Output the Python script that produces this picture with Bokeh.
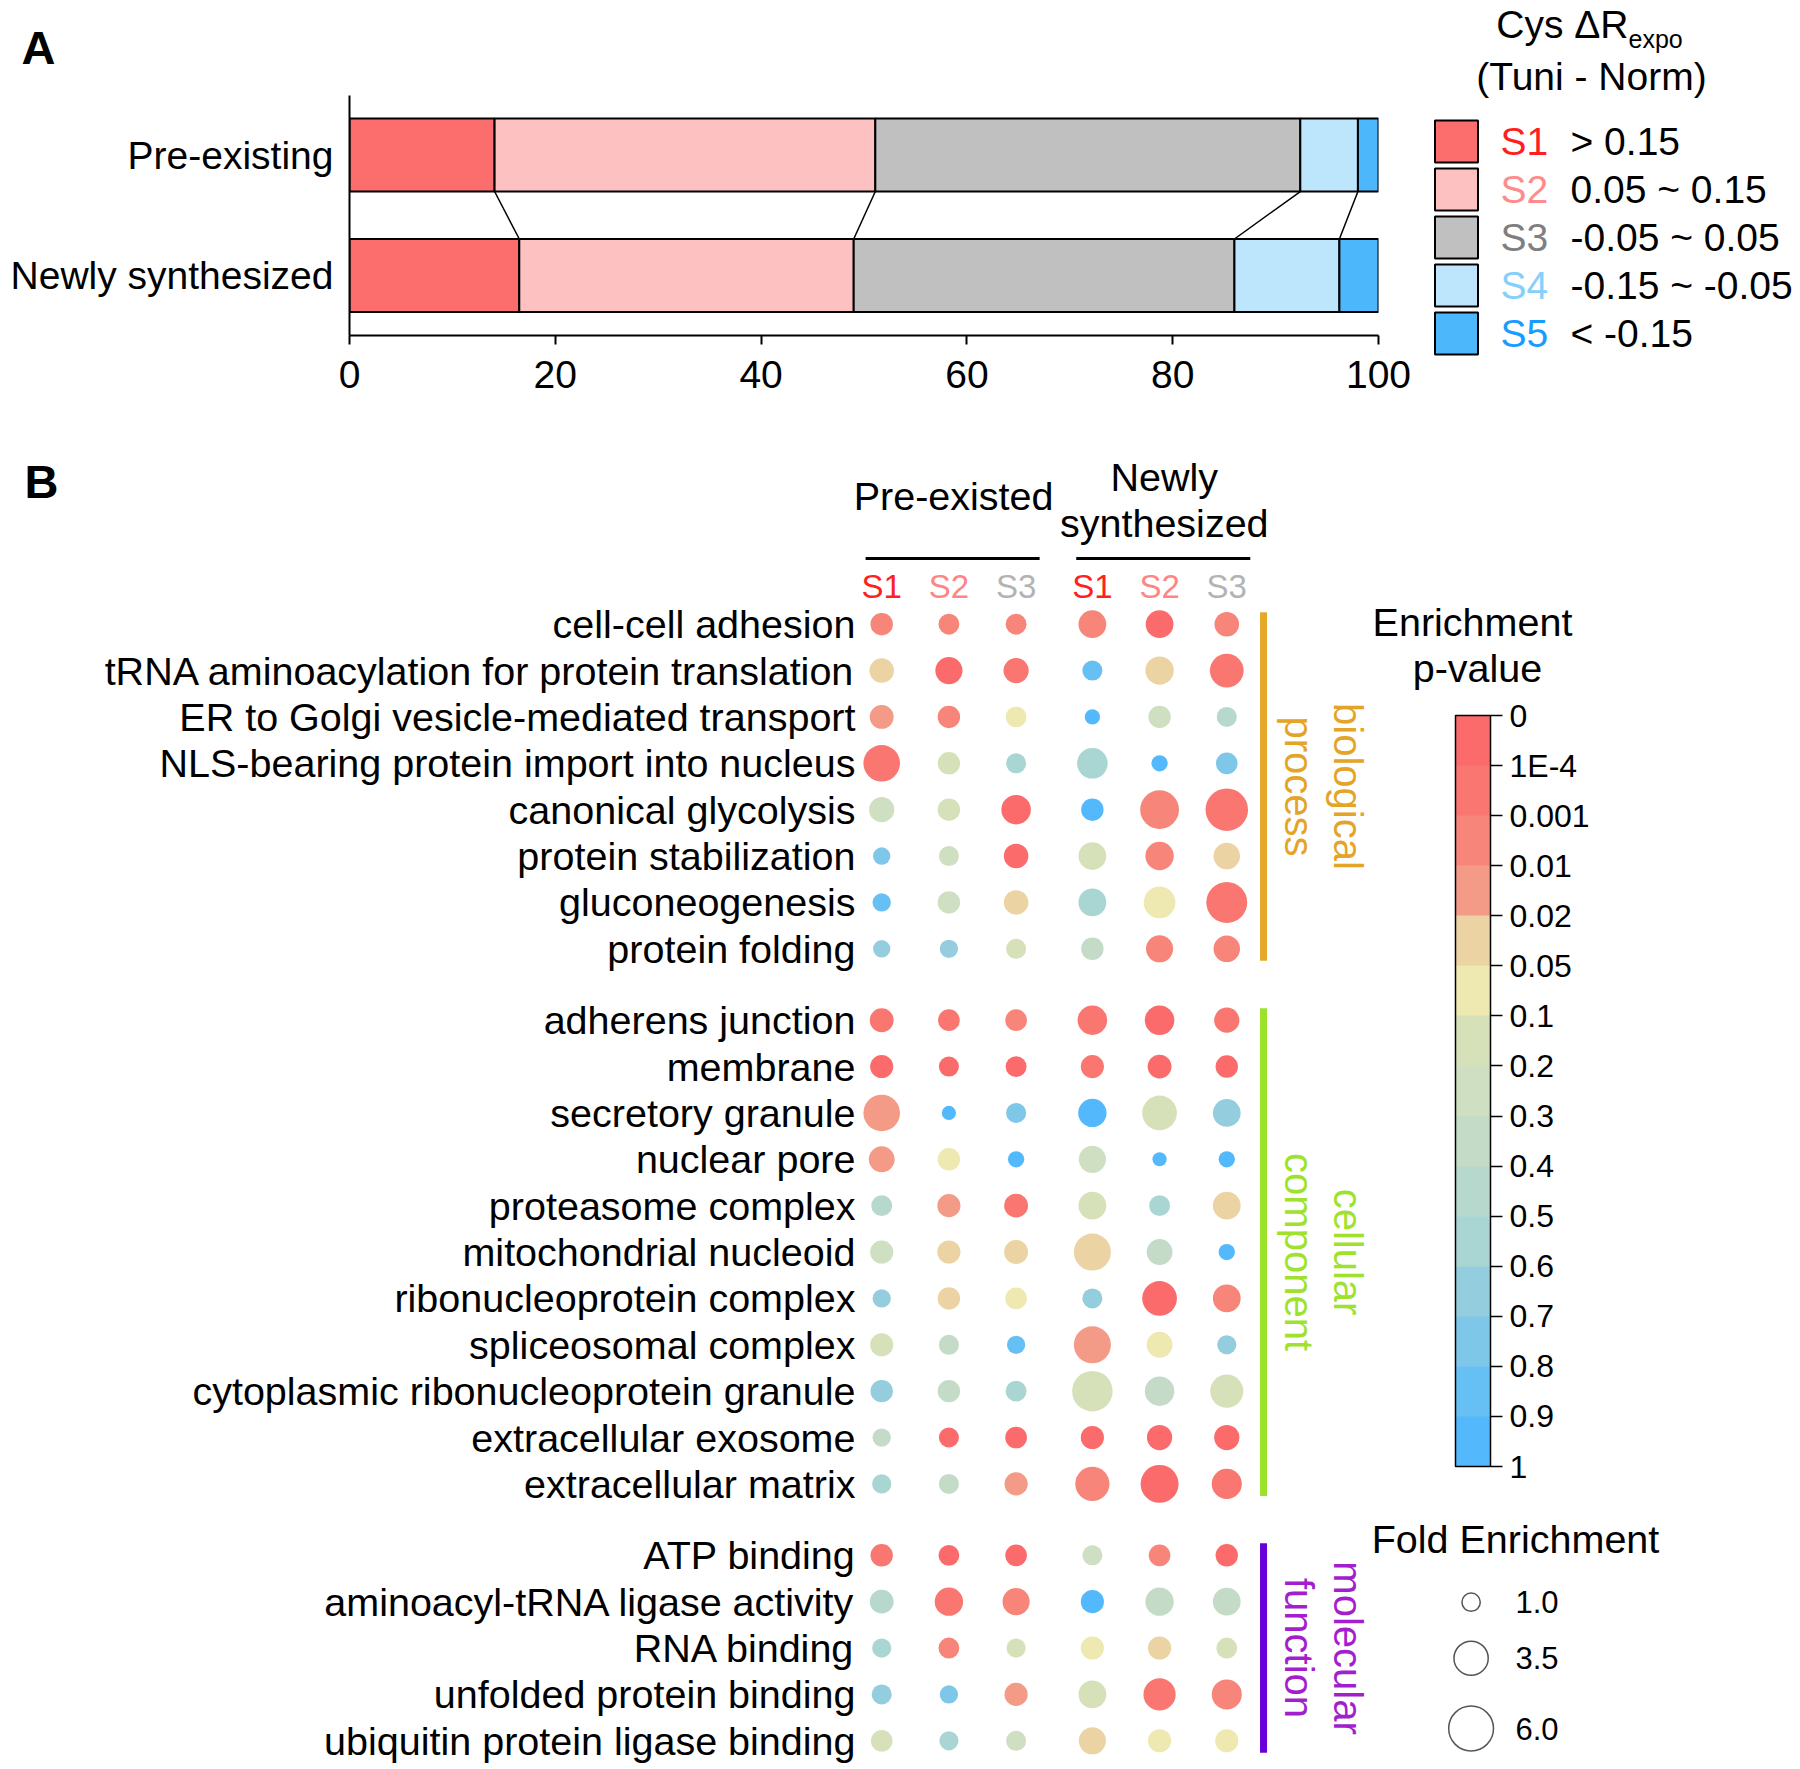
import math
from bisect import bisect_right

from bokeh.core.properties import value
from bokeh.embed import file_html
from bokeh.layouts import column, row
from bokeh.models import (ColorBar, ColumnDataSource, FixedTicker,
                          LinearColorMapper, Range1d)
from bokeh.plotting import figure
from bokeh.resources import INLINE

FONT = "Liberation Sans"

# ------------------------------------------------------------------ Panel A data
states = ["S1", "S2", "S3", "S4", "S5"]
state_ranges = ["> 0.15", "0.05 ~ 0.15", "-0.05 ~ 0.05", "-0.15 ~ -0.05", "< -0.15"]
state_fill = ["#fc6d6d", "#fdc1c1", "#c0c0c0", "#bde6fd", "#4cb8fb"]
state_text = ["#ff1f1f", "#ff8c8c", "#7f7f7f", "#85d0fb", "#1a9cff"]
a_categories = ["Pre-existing", "Newly synthesized"]
pre_existing_pct = [14.1, 37.0, 41.3, 5.6, 2.0]
newly_synth_pct = [16.5, 32.5, 37.0, 10.2, 3.8]
a_ticks = [0, 20, 40, 60, 80, 100]

# ------------------------------------------------------------------ Panel B data
col_groups = ["Pre-existed", "Newly synthesized"]
col_states = ["S1", "S2", "S3"]
col_state_colors = ["#ff2020", "#ff8585", "#b3b3b3"]

bp_terms = ["cell-cell adhesion", "tRNA aminoacylation for protein translation",
            "ER to Golgi vesicle-mediated transport", "NLS-bearing protein import into nucleus",
            "canonical glycolysis", "protein stabilization", "gluconeogenesis", "protein folding"]
bp_pvalue = [[0.005, 0.005, 0.005, 0.005, 5e-5, 0.005],
             [0.03, 5e-5, 5e-4, 0.85, 0.03, 5e-4],
             [0.015, 0.005, 0.07, 0.95, 0.25, 0.45],
             [5e-4, 0.15, 0.55, 0.55, 0.95, 0.75],
             [0.25, 0.15, 5e-5, 0.95, 0.005, 5e-4],
             [0.75, 0.25, 5e-5, 0.15, 0.005, 0.03],
             [0.85, 0.25, 0.03, 0.55, 0.07, 5e-4],
             [0.65, 0.65, 0.15, 0.35, 0.005, 0.005]]
bp_fold = [[1.5, 1.3, 1.3, 2.3, 2.3, 1.8],
           [1.8, 2.2, 1.9, 1.2, 2.4, 3.4],
           [1.7, 1.5, 1.3, 0.7, 1.5, 1.2],
           [4.0, 1.5, 1.2, 2.8, 0.8, 1.4],
           [1.9, 1.5, 2.6, 1.5, 4.5, 5.4],
           [0.9, 1.2, 1.8, 2.3, 2.4, 2.1],
           [1.0, 1.5, 1.8, 2.3, 3.0, 5.0],
           [0.9, 1.0, 1.2, 1.5, 2.2, 2.1]]

cc_terms = ["adherens junction", "membrane", "secretory granule", "nuclear pore",
            "proteasome complex", "mitochondrial nucleoid", "ribonucleoprotein complex",
            "spliceosomal complex", "cytoplasmic ribonucleoprotein granule",
            "extracellular exosome", "extracellular matrix"]
cc_pvalue = [[5e-4, 5e-4, 0.005, 5e-4, 5e-5, 5e-4],
             [5e-5, 5e-5, 5e-5, 5e-4, 5e-5, 5e-5],
             [0.015, 0.95, 0.75, 0.95, 0.15, 0.65],
             [0.015, 0.07, 0.95, 0.25, 0.95, 0.95],
             [0.45, 0.015, 5e-4, 0.15, 0.55, 0.03],
             [0.25, 0.03, 0.03, 0.03, 0.35, 0.95],
             [0.65, 0.03, 0.07, 0.65, 5e-5, 0.005],
             [0.15, 0.35, 0.85, 0.015, 0.07, 0.65],
             [0.65, 0.35, 0.55, 0.15, 0.35, 0.15],
             [0.35, 5e-5, 5e-5, 5e-5, 5e-5, 5e-5],
             [0.55, 0.35, 0.015, 0.005, 5e-5, 5e-4]]
cc_fold = [[1.7, 1.4, 1.4, 2.6, 2.6, 1.9],
           [1.6, 1.2, 1.3, 1.6, 1.7, 1.5],
           [4.0, 0.6, 1.2, 2.4, 3.6, 2.3],
           [2.0, 1.5, 0.8, 2.2, 0.6, 0.8],
           [1.3, 1.6, 1.7, 2.3, 1.3, 2.3],
           [1.6, 1.6, 1.7, 4.1, 2.0, 0.8],
           [1.0, 1.5, 1.4, 1.2, 3.6, 2.3],
           [1.6, 1.2, 1.0, 4.1, 2.0, 1.1],
           [1.5, 1.5, 1.3, 4.9, 2.6, 3.3],
           [1.0, 1.2, 1.4, 1.6, 1.9, 1.9],
           [1.1, 1.2, 1.6, 3.5, 4.3, 2.7]]

mf_terms = ["ATP binding", "aminoacyl-tRNA ligase activity", "RNA binding",
            "unfolded protein binding", "ubiquitin protein ligase binding"]
mf_pvalue = [[5e-4, 5e-5, 5e-5, 0.25, 0.005, 5e-5],
             [0.45, 5e-4, 0.005, 0.95, 0.35, 0.35],
             [0.55, 0.005, 0.15, 0.07, 0.03, 0.15],
             [0.65, 0.75, 0.015, 0.15, 5e-4, 0.005],
             [0.15, 0.55, 0.25, 0.03, 0.07, 0.07]]
mf_fold = [[1.5, 1.3, 1.4, 1.2, 1.4, 1.5],
           [1.7, 2.4, 2.2, 1.6, 2.4, 2.3],
           [1.1, 1.3, 1.1, 1.6, 1.6, 1.3],
           [1.2, 1.0, 1.6, 2.3, 3.1, 2.7],
           [1.4, 1.1, 1.2, 2.2, 1.6, 1.6]]

go_group_lines = [("biological", "process"), ("cellular", "component"), ("molecular", "function")]
go_bar_colors = ["#e6a828", "#9de22a", "#6a00d9"]
go_text_colors = ["#e3a428", "#9ee22e", "#a31fce"]

pvalue_breaks = [1e-4, 1e-3, 0.01, 0.02, 0.05, 0.1, 0.2, 0.3, 0.4, 0.5, 0.6, 0.7, 0.8, 0.9]
pvalue_tick_labels = ["0", "1E-4", "0.001", "0.01", "0.02", "0.05", "0.1", "0.2", "0.3",
                      "0.4", "0.5", "0.6", "0.7", "0.8", "0.9", "1"]
pvalue_band_colors = ["#fc6b6b", "#fa7670", "#f7857a", "#f39b87", "#ecd3a3", "#ede9b1",
                      "#d7e1b9", "#cfdfc1", "#c4dcc7", "#b7d9cd", "#a9d6d3", "#94cede",
                      "#7fc7e9", "#67c0f3", "#53b9fc"]
fold_legend_values = [1.0, 3.5, 6.0]


def dot_diameter(fold):
    return 18.3 * math.sqrt(fold)


def band_color(p):
    return pvalue_band_colors[bisect_right(pvalue_breaks, p)]


def pixel_figure(w, h):
    """A blank figure whose data units are pixels (y pointing down)."""
    f = figure(width=w, height=h, x_range=Range1d(0, w), y_range=Range1d(h, 0),
               x_axis_location=None, y_axis_location=None, output_backend="svg",
               toolbar_location=None, min_border=0)
    f.grid.visible = False
    f.outline_line_color = None
    return f


def txt(fig, x, y, text, size, color="black", align="left", baseline="middle", **kw):
    fig.text(x=x, y=y, text=text, text_color=color, text_font=value(FONT),
             text_font_size=size, text_align=align, text_baseline=baseline, **kw)


# ================================================================== Panel A
BAR_H = 0.606
a_ypos = {c: len(a_categories) - 1 - i for i, c in enumerate(a_categories)}

pAtop = pixel_figure(1428, 95)
txt(pAtop, [21], [46.5], ["A"], "47px", text_font_style="bold")

pA = figure(width=1428, height=337, x_range=Range1d(0, 100), y_range=Range1d(-0.498, 1.494),
            output_backend="svg", toolbar_location=None,
            min_border_left=349, min_border_right=50, min_border_top=0, min_border_bottom=97)
pA.grid.visible = False
pA.outline_line_color = None

bars = dict(y=[], left=[], right=[], color=[])
cums = {}
for cat, vals in zip(a_categories, [pre_existing_pct, newly_synth_pct]):
    left = 0.0
    cum = []
    for v, c in zip(vals, state_fill):
        bars["y"].append(a_ypos[cat])
        bars["left"].append(left)
        bars["right"].append(left + v)
        bars["color"].append(c)
        left += v
        cum.append(left)
    cums[cat] = cum
pA.hbar(y="y", left="left", right="right", height=BAR_H, fill_color="color",
        line_color="black", line_width=2, source=ColumnDataSource(bars))

top_cat, bot_cat = a_categories[0], a_categories[1]
conn = dict(x0=cums[top_cat][:-1], x1=cums[bot_cat][:-1],
            y0=[a_ypos[top_cat] - BAR_H / 2] * (len(states) - 1),
            y1=[a_ypos[bot_cat] + BAR_H / 2] * (len(states) - 1))
pA.segment(x0="x0", y0="y0", x1="x1", y1="y1", line_color="black", line_width=1.5,
           source=ColumnDataSource(conn))

pA.xaxis.ticker = FixedTicker(ticks=a_ticks)
pA.yaxis.ticker = FixedTicker(ticks=sorted(a_ypos.values()))
pA.yaxis.major_label_overrides = {v: k for k, v in a_ypos.items()}
for ax in (pA.xaxis[0], pA.yaxis[0]):
    ax.major_label_text_font = FONT
    ax.major_label_text_font_size = "39px"
    ax.major_label_text_color = "black"
    ax.axis_line_width = 2
    ax.axis_line_color = "black"
    ax.major_tick_line_width = 2
    ax.major_tick_line_color = "black"
    ax.major_tick_in = 0
    ax.minor_tick_in = 0
    ax.minor_tick_out = 0
pA.xaxis.major_tick_out = 9
pA.xaxis.major_label_standoff = 16
pA.yaxis.major_tick_out = 0
pA.yaxis.major_label_standoff = 16

# legend of panel A (1 data unit = 1 px)
pL = pixel_figure(372, 432)
leg_y = [141 + 48 * i for i in range(len(states))]
pL.rect(x=[28] * len(states), y=leg_y, width=43, height=42, fill_color=state_fill,
        line_color="black", line_width=2)
txt(pL, [72] * len(states), leg_y, states, "39px", color=state_text)
txt(pL, [142] * len(states), leg_y, state_ranges, "39px")
txt(pL, [200], [24], ["Cys \u0394R"], "39px", align="right")
txt(pL, [200], [38], ["expo"], "25px")
txt(pL, [163], [76], ["(Tuni - Norm)"], "39px", align="center")

# ================================================================== Panel B
X0, XU = 881.2, 67.2        # page x of first column, px per column unit
Y0, YU = 623.7, 0.4637      # page y of first row, px per y unit
ROW_STEP, GROUP_GAP = 100, 54
COL_GAP = 0.135
B_TOP, B_SPLIT, B_BOTTOM, B_RIGHT, B_FRAME_LEFT = 432, 552, 1764, 1800, 858
BFONT = "39.5px"


def bx(px):
    return (px - X0) / XU


def by(py):
    return (Y0 - py) / YU


n_cols = len(col_groups) * len(col_states)
col_x = [i + (COL_GAP if i >= len(col_states) else 0) for i in range(n_cols)]

# --- header strip (group headers + panel letter)
pBtop = figure(width=B_RIGHT, height=B_SPLIT - B_TOP,
               x_range=Range1d(bx(0), bx(B_RIGHT)), y_range=Range1d(by(B_SPLIT), by(B_TOP)),
               x_axis_location=None, y_axis_location=None, output_backend="svg",
               toolbar_location=None, min_border=0)
pBtop.grid.visible = False
pBtop.outline_line_color = None
txt(pBtop, [bx(24)], [by(480.5)], ["B"], "47px", text_font_style="bold")

# --- main dot plot
pB = figure(width=B_RIGHT, height=B_BOTTOM - B_SPLIT,
            x_range=Range1d(bx(B_FRAME_LEFT), bx(B_RIGHT)),
            y_range=Range1d(by(B_BOTTOM), by(B_SPLIT)),
            output_backend="svg", toolbar_location=None, x_axis_location=None,
            min_border_left=B_FRAME_LEFT, min_border_right=0, min_border_top=0,
            min_border_bottom=0)
pB.grid.visible = False
pB.outline_line_color = None

for gi, gname in enumerate(col_groups):
    cx = col_x[gi * 3:(gi + 1) * 3]
    center = sum(cx) / len(cx) + 0.07
    pB.segment(x0=[cx[0] - 0.24], x1=[cx[-1] + 0.35], y0=[by(558)], y1=[by(558)],
               line_color="black", line_width=3)
    txt(pB, cx, [by(585.5)] * 3, col_states, "33px", color=col_state_colors, align="center")
    words = gname.split(" ")
    if len(words) == 1:
        txt(pBtop, [center], [by(495)], [gname], BFONT, align="center")
    else:
        txt(pBtop, [center, center], [by(476.5), by(522)], words, BFONT, align="center")

groups = [(bp_terms, bp_pvalue, bp_fold), (cc_terms, cc_pvalue, cc_fold),
          (mf_terms, mf_pvalue, mf_fold)]
dots = dict(x=[], y=[], size=[], color=[])
tick_pos, tick_lab = [], []
group_rows = []
idx = 0
for g, (terms, pvals, folds) in enumerate(groups):
    ys = []
    for term, prow, frow in zip(terms, pvals, folds):
        y = -(ROW_STEP * idx + GROUP_GAP * g)
        ys.append(y)
        tick_pos.append(y)
        tick_lab.append(term)
        for c in range(n_cols):
            dots["x"].append(col_x[c])
            dots["y"].append(y)
            dots["size"].append(dot_diameter(frow[c]))
            dots["color"].append(band_color(prow[c]))
        idx += 1
    group_rows.append(ys)

pB.scatter(x="x", y="y", size="size", fill_color="color", line_color=None,
           source=ColumnDataSource(dots))

pB.yaxis.ticker = FixedTicker(ticks=tick_pos)
pB.yaxis.major_label_overrides = dict(zip(tick_pos, tick_lab))
pB.yaxis.axis_line_color = None
pB.yaxis.major_tick_line_color = None
pB.yaxis.minor_tick_line_color = None
pB.yaxis.major_tick_out = 0
pB.yaxis.major_tick_in = 0
pB.yaxis.major_label_standoff = 3
pB.yaxis.major_label_text_font = FONT
pB.yaxis.major_label_text_font_size = BFONT
pB.yaxis.major_label_text_color = "black"

# GO category bars and rotated labels
bar_x = col_x[-1] + 0.547
for ys, lines, bc, tc in zip(group_rows, go_group_lines, go_bar_colors, go_text_colors):
    pB.segment(x0=[bar_x], x1=[bar_x], y0=[ys[0] + 26], y1=[ys[-1] - 26],
               line_color=bc, line_width=7, line_cap="butt")
    yc = (ys[0] + ys[-1]) / 2
    txt(pB, [col_x[-1] + 1.80, col_x[-1] + 1.075], [yc, yc], list(lines), "40px",
        color=tc, align="center", angle=-math.pi / 2)

# colour bar for p-value
mapper = LinearColorMapper(palette=list(reversed(pvalue_band_colors)), low=0,
                           high=len(pvalue_band_colors))
n_t = len(pvalue_tick_labels)
cb = ColorBar(color_mapper=mapper, ticker=FixedTicker(ticks=list(range(n_t))),
              major_label_overrides={k: pvalue_tick_labels[n_t - 1 - k] for k in range(n_t)},
              location=(1455 - B_FRAME_LEFT, B_BOTTOM - 1466), width=35, height=751, padding=0,
              orientation="vertical", bar_line_color="black", bar_line_width=1.5,
              major_tick_line_color="black", major_tick_line_width=1.5,
              major_tick_in=0, major_tick_out=12, minor_tick_line_color=None,
              label_standoff=7, major_label_text_font=FONT,
              major_label_text_font_size="32px", major_label_text_color="black",
              background_fill_alpha=0, border_line_color=None)
pB.add_layout(cb)
txt(pB, [bx(1472), bx(1477)], [by(621.6), by(667)], ["Enrichment", "p-value"], BFONT,
    align="center")

# size legend
leg_cy = [by(1601.7), by(1657.7), by(1728)]
pB.scatter(x=[bx(1470.6)] * len(fold_legend_values), y=leg_cy,
           size=[dot_diameter(f) for f in fold_legend_values],
           fill_color=None, line_color="#555555", line_width=1.5)
txt(pB, [bx(1515)] * len(fold_legend_values), leg_cy,
    ["%.1f" % f for f in fold_legend_values], "31px")
txt(pB, [bx(1515)], [by(1538)], ["Fold Enrichment"], BFONT, align="center")

layout = column(row(column(row(pAtop), row(pA)), column(pL)), row(pBtop), row(pB))
open("out.html", "w").write(file_html(layout, INLINE))
